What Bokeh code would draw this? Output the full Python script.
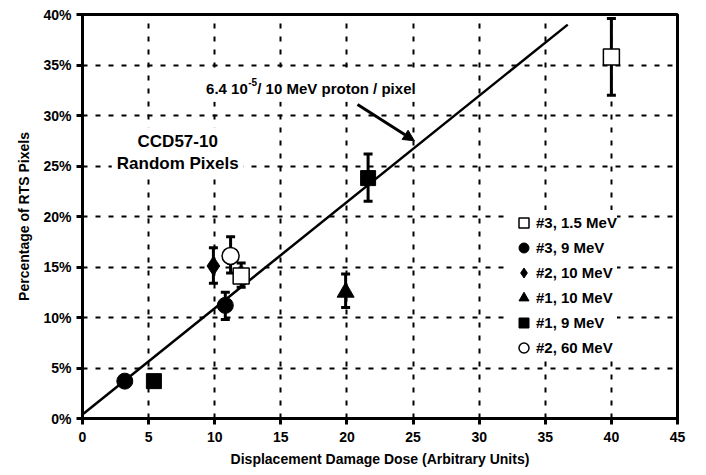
from bokeh.plotting import figure
from bokeh.models import (Range1d, Whisker, ColumnDataSource, TeeHead, Legend, LegendItem,
                          PrintfTickFormatter, FixedTicker, Arrow, NormalHead, Label)
from bokeh.embed import file_html
from bokeh.resources import INLINE

FONT = "Liberation Sans"

# ---------------- data ----------------
x_ticks = [0, 5, 10, 15, 20, 25, 30, 35, 40, 45]
y_ticks = [0, 5, 10, 15, 20, 25, 30, 35, 40]

series_labels = ["#3, 1.5 MeV", "#3, 9 MeV", "#2, 10 MeV", "#1, 10 MeV", "#1, 9 MeV", "#2, 60 MeV"]

s3_15_x = [40.0, 12.0]
s3_15_y = [35.8, 14.1]
s3_15_lo = [32.0, 13.0]
s3_15_hi = [39.6, 15.4]

s3_9_x = [3.2, 10.8]
s3_9_y = [3.7, 11.2]
s3_9_lo = [None, 9.8]
s3_9_hi = [None, 12.5]

s2_10_x = [9.9]
s2_10_y = [15.1]
s2_10_lo = [13.4]
s2_10_hi = [16.9]

s1_10_x = [19.9]
s1_10_y = [12.5]
s1_10_lo = [11.0]
s1_10_hi = [14.3]

s1_9_x = [5.4, 21.6]
s1_9_y = [3.7, 23.8]
s1_9_lo = [None, 21.5]
s1_9_hi = [None, 26.2]

s2_60_x = [11.2]
s2_60_y = [16.1]
s2_60_lo = [14.4]
s2_60_hi = [18.0]

fit_x = [0.0, 36.7]
fit_y = [0.4, 39.0]

arrow_from = (20.8, 31.1)
arrow_to = (25.1, 27.5)

# ---------------- figure ----------------
p = figure(width=706, height=475, output_backend="svg", toolbar_location=None,
           x_range=Range1d(0, 45), y_range=Range1d(0, 40),
           min_border_left=82, min_border_right=29, min_border_top=14, min_border_bottom=57)
p.background_fill_color = "white"
p.border_fill_color = "white"
p.outline_line_color = "black"
p.outline_line_width = 3

for ax in (p.xaxis[0], p.yaxis[0]):
    ax.axis_line_width = 3
    ax.axis_line_color = "black"
    ax.major_tick_line_width = 3
    ax.major_tick_line_color = "black"
    ax.major_tick_in = 0
    ax.major_tick_out = 6
    ax.minor_tick_line_color = None
    ax.major_label_text_font = FONT
    ax.major_label_text_font_style = "bold"
    ax.major_label_text_font_size = "14px"
    ax.major_label_text_color = "black"
    ax.axis_label_text_font = FONT
    ax.axis_label_text_font_style = "bold"
    ax.axis_label_text_font_size = "14px"
    ax.axis_label_text_color = "black"

p.xaxis[0].ticker = FixedTicker(ticks=x_ticks)
p.yaxis[0].ticker = FixedTicker(ticks=y_ticks)
p.yaxis[0].formatter = PrintfTickFormatter(format="%d%%")
p.xaxis[0].axis_label = "Displacement Damage Dose (Arbitrary Units)"
p.yaxis[0].axis_label = "Percentage of RTS Pixels"
p.xaxis[0].major_label_standoff = 7
p.yaxis[0].major_label_standoff = 5
p.xaxis[0].axis_label_standoff = 6
p.yaxis[0].axis_label_standoff = 8

for g in (p.xgrid[0], p.ygrid[0]):
    g.grid_line_color = "black"
    g.grid_line_width = 2
    g.grid_line_dash = "5 8"
p.xgrid[0].ticker = FixedTicker(ticks=x_ticks)
p.ygrid[0].ticker = FixedTicker(ticks=y_ticks)

# fit line
p.line(fit_x, fit_y, line_color="black", line_width=2.5)

# ---------------- text boxes ----------------
lbl_kw = dict(text_font=FONT, text_font_style="bold", text_baseline="alphabetic")
texts = [
    dict(x=12.5, y=32.7, text="6.4 10", text_align="right", text_font_size="15px", boxed=True),
    dict(x=12.5, y=32.7, x_offset=9.5, text=" / 10 MeV proton / pixel", text_align="left",
         text_font_size="15px", boxed=True),
    dict(x=12.5, y=32.7, y_offset=6, x_offset=0.5, text="-5", text_align="left",
         text_font_size="10px", boxed=False),
    dict(x=7.2, y=27.4, text="CCD57-10", text_align="center", text_font_size="17px", boxed=True),
    dict(x=7.2, y=25.2, text="Random Pixels", text_align="center", text_font_size="17px", boxed=True),
]
# white boxes behind the texts (hide the grid), then the texts themselves
for t in texts:
    if t["boxed"]:
        kw = {k: v for k, v in t.items() if k != "boxed"}
        p.add_layout(Label(background_fill_color="white", background_fill_alpha=1.0, padding=5,
                           text_color="white", **kw, **lbl_kw))
for t in texts:
    kw = {k: v for k, v in t.items() if k != "boxed"}
    p.add_layout(Label(text_color="black", **kw, **lbl_kw))

# arrow
p.add_layout(Arrow(x_start=arrow_from[0], y_start=arrow_from[1], x_end=arrow_to[0], y_end=arrow_to[1],
                   line_color="black", line_width=3,
                   end=NormalHead(size=11, fill_color="black", line_color="black", line_width=1)))

# ---------------- series ----------------
series = [
    (s3_15_x, s3_15_y, s3_15_lo, s3_15_hi, dict(marker="square", size=16, fill_color="white", line_color="black", line_width=1.5)),
    (s3_9_x, s3_9_y, s3_9_lo, s3_9_hi, dict(marker="circle", size=16, fill_color="black", line_color="black", line_width=1)),
    (s2_10_x, s2_10_y, s2_10_lo, s2_10_hi, dict(marker="diamond", size=19, fill_color="black", line_color="black", line_width=1)),
    (s1_10_x, s1_10_y, s1_10_lo, s1_10_hi, dict(marker="triangle", size=17, fill_color="black", line_color="black", line_width=1)),
    (s1_9_x, s1_9_y, s1_9_lo, s1_9_hi, dict(marker="square", size=15, fill_color="black", line_color="black", line_width=1)),
    (s2_60_x, s2_60_y, s2_60_lo, s2_60_hi, dict(marker="circle", size=17, fill_color="white", line_color="black", line_width=1.5)),
]

# error bars first
for xs, ys, lo, hi, style in series:
    bx = [x for x, l in zip(xs, lo) if l is not None]
    bl = [l for l in lo if l is not None]
    bh = [h for h in hi if h is not None]
    if bx:
        src = ColumnDataSource(dict(base=bx, lower=bl, upper=bh))
        w = Whisker(source=src, base="base", lower="lower", upper="upper", dimension="height",
                    line_color="black", line_width=3,
                    upper_head=TeeHead(size=9, line_width=3, line_color="black"),
                    lower_head=TeeHead(size=9, line_width=3, line_color="black"))
        p.add_layout(w)

items = []
for (xs, ys, lo, hi, style), lab in zip(series, series_labels):
    r = p.scatter(xs, ys, **style)
    items.append(LegendItem(label=lab, renderers=[r]))

legend = Legend(items=items, location=(429, 58), orientation="vertical",
                glyph_width=25, glyph_height=25, label_height=25, spacing=0, padding=3, margin=0,
                label_standoff=-6, background_fill_color="white", background_fill_alpha=1,
                border_line_color=None,
                label_text_font=FONT, label_text_font_style="bold", label_text_font_size="15px",
                label_text_color="black")
p.add_layout(legend)

open("out.html", "w").write(file_html(p, INLINE))
